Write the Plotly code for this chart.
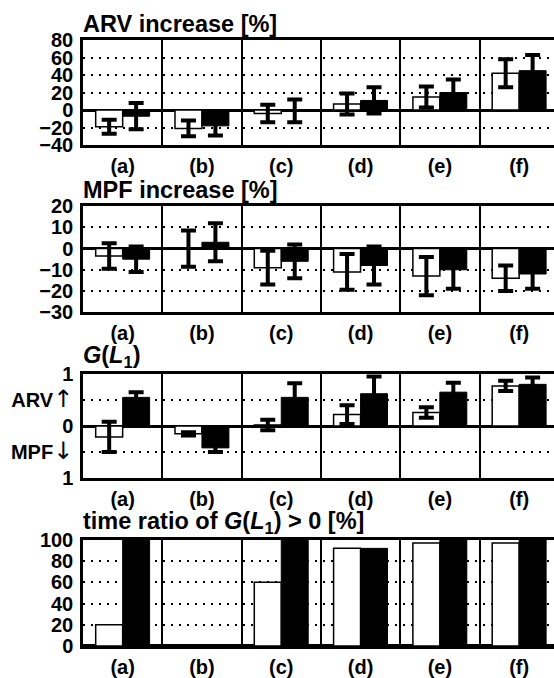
import plotly.graph_objects as go
from plotly.subplots import make_subplots

groups = ["(a)", "(b)", "(c)", "(d)", "(e)", "(f)"]

arv_white = [-19, -21, -4, 7, 15, 42]
arv_white_err = [8, 9, 10, 12, 12, 16]
arv_black = [-7, -18, -1, 11, 20, 45]
arv_black_err = [15, 11, 13, 15, 15, 18]

mpf_white = [-3.5, 0, -9, -11, -13, -14]
mpf_white_err = [6, 8.6, 8, 8.5, 9, 6]
mpf_black = [-5, 3, -6, -8, -10, -12]
mpf_black_err = [6, 9, 8, 9, 9, 7]

g_white = [-0.21, -0.15, 0.02, 0.22, 0.26, 0.77]
g_white_err = [0.29, 0.03, 0.1, 0.18, 0.1, 0.1]
g_black = [0.55, -0.42, 0.55, 0.62, 0.65, 0.8]
g_black_err = [0.1, 0.08, 0.27, 0.33, 0.18, 0.13]

ratio_white = [20, 0, 60, 92, 97, 97]
ratio_black = [100, 0, 100, 92, 100, 100]

ARROW = '<span style="font-family:DejaVu Sans;font-size:24px;font-weight:normal">{}</span>'
g_ticktext = ["1", "MPF" + ARROW.format("↓"), "0", "ARV" + ARROW.format("↑"), "1"]

titles = ["ARV increase [%]", "MPF increase [%]",
          "<i>G</i>(<i>L</i><sub>1</sub>)",
          "time ratio of <i>G</i>(<i>L</i><sub>1</sub>) &gt; 0 [%]"]

FONT = "Liberation Sans, Arial, Helvetica, sans-serif"
W, H = 554, 678
ML, MR, MT, MB = 83, 0, 40, 27

fig = make_subplots(rows=4, cols=1)
xpos = list(range(len(groups)))

panels = [
    (arv_white, arv_white_err, arv_black, arv_black_err),
    (mpf_white, mpf_white_err, mpf_black, mpf_black_err),
    (g_white, g_white_err, g_black, g_black_err),
    (ratio_white, None, ratio_black, None),
]

for i, (wv, we, bv, be) in enumerate(panels):
    r = i + 1
    fig.add_trace(go.Bar(
        x=xpos, y=wv, offsetgroup="w",
        marker=dict(color="white", line=dict(color="black", width=1.5)),
        error_y=dict(type="data", array=we, color="black", thickness=4, width=7.5,
                     visible=we is not None),
        showlegend=False), row=r, col=1)
    fig.add_trace(go.Bar(
        x=xpos, y=bv, offsetgroup="b",
        marker=dict(color="black", line=dict(color="black", width=1)),
        error_y=dict(type="data", array=be, color="black", thickness=4, width=7.5,
                     visible=be is not None),
        showlegend=False), row=r, col=1)

# pixel layout of the four panels (top, bottom)
panel_px = [(40, 146), (207.7, 314.3), (376.7, 481.7), (544, 651)]
plot_h = H - MT - MB

def frac(p):
    return (H - MB - p) / plot_h

yranges = [[-40, 80], [-30, 20], [-1, 1], [0, 100]]
ytickvals = [[-40, -20, 0, 20, 40, 60, 80],
             [-30, -20, -10, 0, 10, 20],
             [-1, -0.5, 0, 0.5, 1],
             [0, 20, 40, 60, 80, 100]]
yticktext = [[("−" + str(-v)) if v < 0 else str(v) for v in ytickvals[0]],
             [("−" + str(-v)) if v < 0 else str(v) for v in ytickvals[1]],
             g_ticktext,
             [str(v) for v in ytickvals[3]]]

n = len(groups)
span = (W - ML - MR) / 79.3

for i in range(4):
    sfx = "" if i == 0 else str(i + 1)
    top, bot = panel_px[i]
    fig.layout["yaxis" + sfx].update(
        domain=[frac(bot), frac(top)],
        range=yranges[i],
        tickmode="array",
        tickvals=ytickvals[i],
        ticktext=yticktext[i],
        showgrid=True, gridcolor="black", gridwidth=2, griddash="2px,6px",
        zeroline=True, zerolinecolor="black", zerolinewidth=2.5,
        showline=True, linecolor="black", linewidth=2.5,
        ticks="", ticklabelstandoff=3,
        tickfont=dict(family=FONT, size=20, color="black", weight="bold"),
    )
    fig.layout["xaxis" + sfx].update(
        range=[-0.5, -0.5 + span],
        tickmode="array", tickvals=xpos, ticktext=groups,
        showgrid=False, zeroline=False,
        showline=True, mirror=True, linecolor="black", linewidth=2.5,
        ticks="", ticklabelstandoff=1,
        tickfont=dict(family=FONT, size=20, color="black", weight="bold"),
        minor=dict(tickmode="array", tickvals=[k + 0.5 for k in range(n)],
                   showgrid=True, gridcolor="black", gridwidth=2, ticks=""),
    )
    fig.add_annotation(
        xref="paper", yref="paper", x=0, y=frac(top),
        xanchor="left", yanchor="bottom", yshift=1, xshift=-2,
        text="<b>" + titles[i] + "</b>", showarrow=False,
        font=dict(family=FONT, size=23.5, color="black"),
    )

fig.update_layout(
    width=W, height=H,
    margin=dict(l=ML, r=MR, t=MT, b=MB),
    barmode="group", bargap=0.32, bargroupgap=0,
    paper_bgcolor="white", plot_bgcolor="white",
    font=dict(family=FONT, color="black"),
)

fig.write_html("out.html")
